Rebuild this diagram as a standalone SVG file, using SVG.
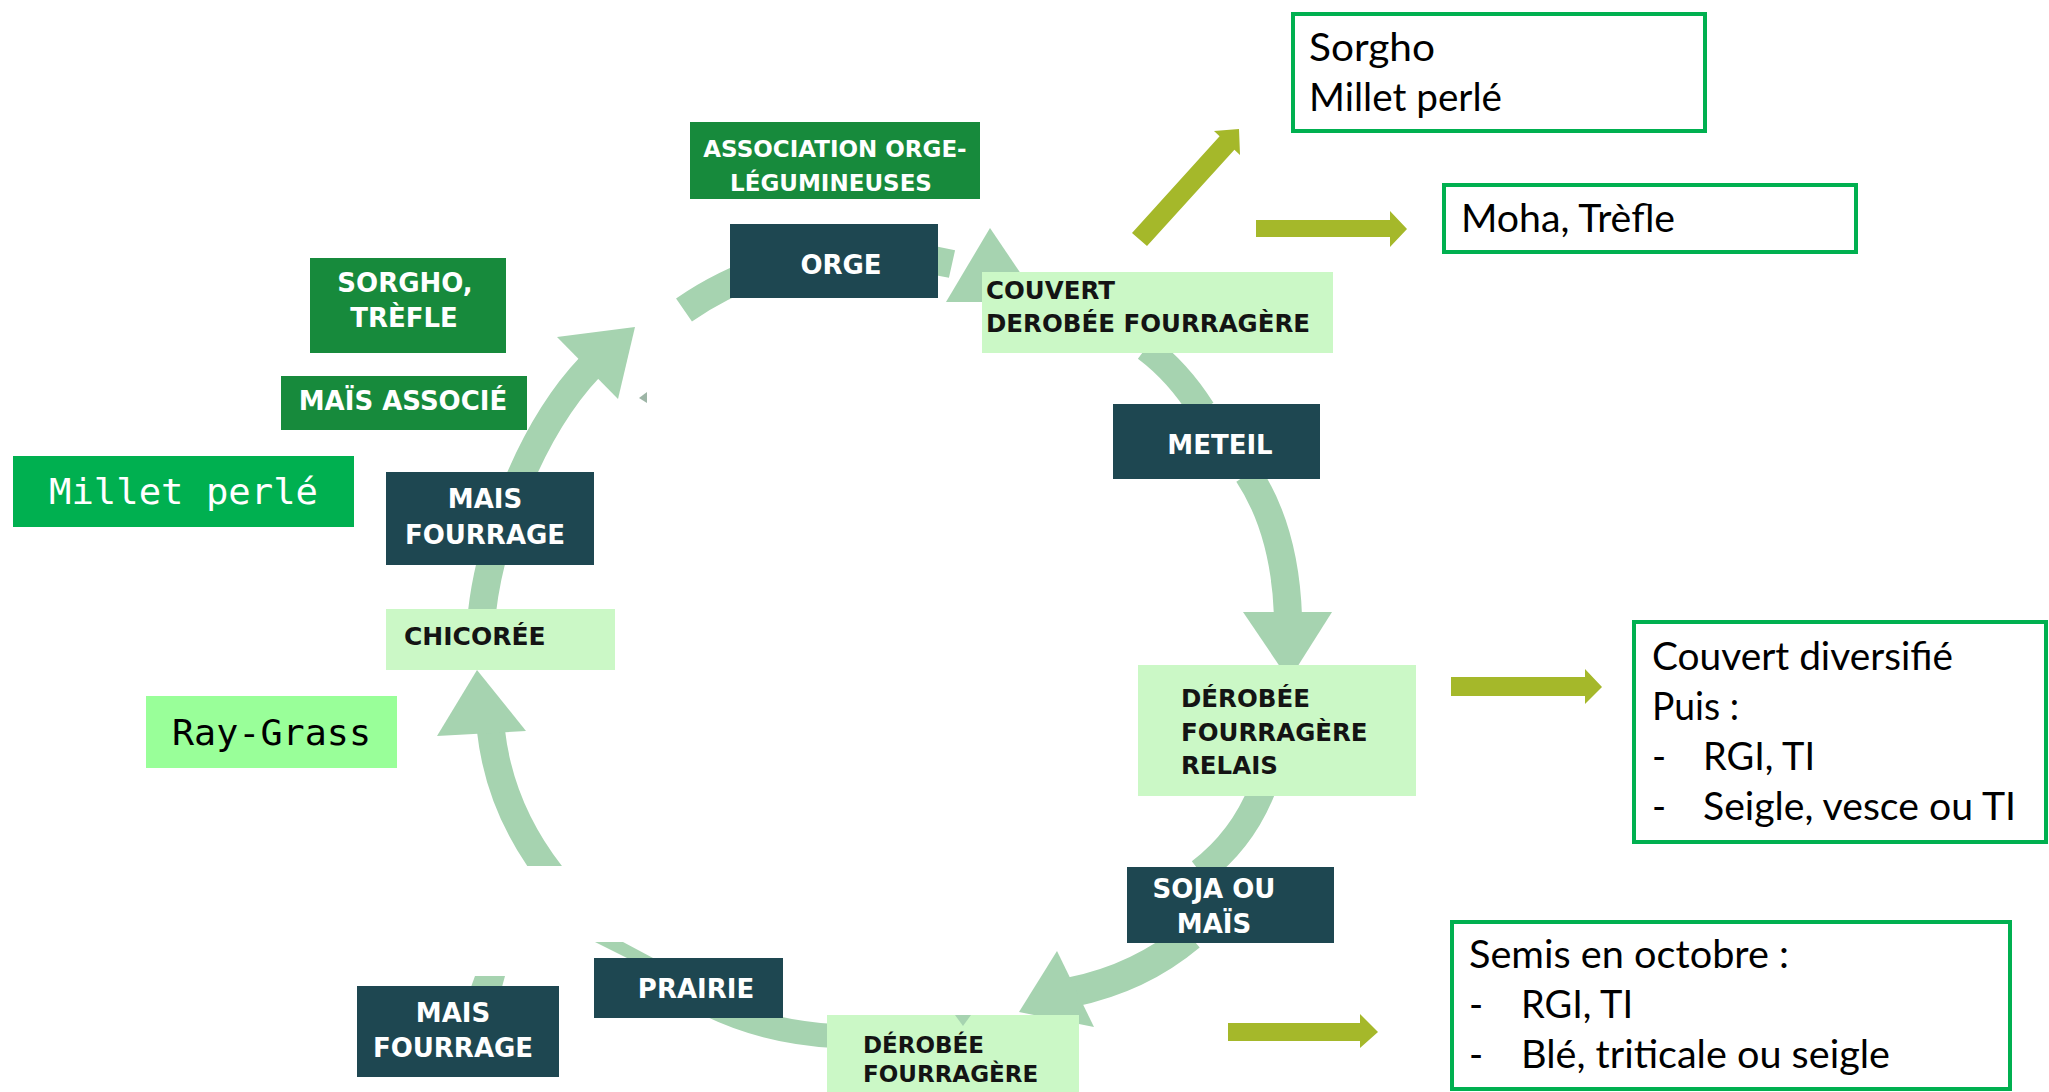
<svg xmlns="http://www.w3.org/2000/svg" width="2049" height="1092" viewBox="0 0 2049 1092">
<style>
.dark{fill:#1E4751}
.dg{fill:#178A3C}
.lg{fill:#CBF8C6}
.b{font-family:"DejaVu Sans",sans-serif;font-weight:bold}
.w{fill:#FFFFFF}
.k{fill:#141414}
.arc{fill:none;stroke:#A6D3B0;stroke-width:28}
.head{fill:#A6D3B0}
.olive{fill:#A5B82A}
.box{fill:#FFFFFF;stroke:#00B050;stroke-width:4}
.r{font-family:Lato,"Liberation Sans",sans-serif;font-size:38px;fill:#000}
.m{font-family:"DejaVu Sans Mono","Liberation Mono",monospace;font-size:35px}
</style>
<defs>
<clipPath id="cutLow"><rect x="380" y="690" width="320" height="176"/></clipPath>
</defs>
<rect width="2049" height="1092" fill="#FFFFFF"/>
<g id="connectors">
<path class="arc" d="M 482 612 C 490 540 530 430 590 367"/>
<polygon class="head" points="635,327 557,337 618,399"/>
<path class="arc" d="M 684 310 Q 800 230 952 264"/>
<polygon class="head" points="990,228 946,302 1040,302"/>
<path class="arc" style="stroke-width:27" d="M 1146 348 Q 1178 372 1202 410"/>
<path class="arc" d="M 1248 474 Q 1285 530 1288 616"/>
<polygon class="head" points="1243,612 1332,612 1289,680"/>
<path class="arc" style="stroke-width:27" d="M 1262 790 Q 1242 840 1200 872"/>
<path class="arc" style="stroke-width:30" d="M 1190 936 Q 1140 978 1072 992"/>
<polygon class="head" points="1019,1012 1057,951 1094,1027"/>
<path class="arc" style="stroke-width:24" d="M 835 1036 Q 760 1032 700 1000"/>
<polygon class="head" points="595,942 623,942 653,958 627,958"/>
<polygon class="head" points="475,976 505,976 502,987 471,987"/>
<path class="arc" clip-path="url(#cutLow)" d="M 491 731 Q 500 810 552 876"/>
<polygon class="head" points="477,670 437,736 526,731"/>
<polygon points="647,392 647,403 639,398" fill="#9DB5A6"/>
<polygon class="olive" points="1132,233 1219.6,136.3 1214,131 1239,129 1240,155 1234.4,149.7 1147,246"/>
<polygon class="olive" points="1256,220 1390,220 1390,211 1407,229 1390,247 1390,237 1256,237"/>
<polygon class="olive" points="1451,677 1585,677 1585,669 1602,687 1585,704 1585,696 1451,696"/>
<polygon class="olive" points="1228,1023 1360,1023 1360,1014 1378,1032 1360,1048 1360,1041 1228,1041"/>
</g>
<g id="n-association">
<rect class="dg" x="690" y="122" width="290" height="77"/>
<text class="b w" font-size="23" x="835" y="157" text-anchor="middle">ASSOCIATION ORGE-</text>
<text class="b w" font-size="23" x="831" y="191" text-anchor="middle">LÉGUMINEUSES</text>
</g>
<g id="n-orge">
<rect class="dark" x="730" y="224" width="208" height="74"/>
<text class="b w" font-size="26" x="841" y="274" text-anchor="middle">ORGE</text>
</g>
<g id="n-couvert">
<rect class="lg" x="982" y="272" width="351" height="81"/>
<text class="b k" font-size="24.5" x="986" y="299">COUVERT</text>
<text class="b k" font-size="24.5" x="986" y="332">DEROBÉE FOURRAGÈRE</text>
</g>
<g id="n-meteil">
<rect class="dark" x="1113" y="404" width="207" height="75"/>
<text class="b w" font-size="26" x="1220" y="454" text-anchor="middle">METEIL</text>
</g>
<g id="n-relais">
<rect class="lg" x="1138" y="665" width="278" height="131"/>
<text class="b k" font-size="24.5" x="1181" y="707">DÉROBÉE</text>
<text class="b k" font-size="24.5" x="1181" y="741">FOURRAGÈRE</text>
<text class="b k" font-size="24.5" x="1181" y="774">RELAIS</text>
</g>
<g id="n-soja">
<rect class="dark" x="1127" y="867" width="207" height="76"/>
<text class="b w" font-size="26" x="1214" y="898" text-anchor="middle">SOJA OU</text>
<text class="b w" font-size="26" x="1214" y="933" text-anchor="middle">MAÏS</text>
</g>
<g id="n-derobee-bas">
<rect class="lg" x="827" y="1015" width="252" height="77"/>
<polygon class="head" points="955,1015 971,1015 963,1026"/>
<text class="b k" font-size="23" x="863" y="1053">DÉROBÉE</text>
<text class="b k" font-size="23" x="863" y="1082">FOURRAGÈRE</text>
</g>
<g id="n-prairie">
<rect class="dark" x="594" y="958" width="189" height="60"/>
<text class="b w" font-size="26" x="696" y="998" text-anchor="middle">PRAIRIE</text>
</g>
<g id="n-mais-bas">
<rect class="dark" x="357" y="986" width="202" height="91"/>
<text class="b w" font-size="26" x="453" y="1022" text-anchor="middle">MAIS</text>
<text class="b w" font-size="26" x="453" y="1057" text-anchor="middle">FOURRAGE</text>
</g>
<g id="n-chicoree">
<rect class="lg" x="386" y="609" width="229" height="61"/>
<text class="b k" font-size="25" x="404" y="645">CHICORÉE</text>
</g>
<g id="n-mais-haut">
<rect class="dark" x="386" y="472" width="208" height="93"/>
<text class="b w" font-size="26" x="485" y="508" text-anchor="middle">MAIS</text>
<text class="b w" font-size="26" x="485" y="544" text-anchor="middle">FOURRAGE</text>
</g>
<g id="n-mais-associe">
<rect class="dg" x="281" y="376" width="246" height="54"/>
<text class="b w" font-size="26" x="403" y="410" text-anchor="middle">MAÏS ASSOCIÉ</text>
</g>
<g id="n-sorgho-trefle">
<rect class="dg" x="310" y="258" width="196" height="95"/>
<text class="b w" font-size="26" x="405" y="292" text-anchor="middle">SORGHO,</text>
<text class="b w" font-size="26" x="404" y="327" text-anchor="middle">TRÈFLE</text>
</g>
<g id="n-millet">
<rect x="13" y="456" width="341" height="71" fill="#00B050"/>
<text class="m" fill="#FFFFFF" x="49" y="504" textLength="269" lengthAdjust="spacingAndGlyphs">Millet perlé</text>
</g>
<g id="n-raygrass">
<rect x="146" y="696" width="251" height="72" fill="#99FF99"/>
<text class="m" fill="#000000" x="172" y="745" textLength="199" lengthAdjust="spacingAndGlyphs">Ray-Grass</text>
</g>
<g id="n-sorgho-millet">
<rect class="box" x="1293" y="14" width="412" height="117"/>
<text class="r" x="1309" y="61" textLength="126" lengthAdjust="spacingAndGlyphs">Sorgho</text>
<text class="r" x="1309" y="111" textLength="193" lengthAdjust="spacingAndGlyphs">Millet perlé</text>
</g>
<g id="n-moha">
<rect class="box" x="1444" y="185" width="412" height="67"/>
<text class="r" x="1461" y="232" textLength="214" lengthAdjust="spacingAndGlyphs">Moha, Trèfle</text>
</g>
<g id="n-couvert-div">
<rect class="box" x="1634" y="622" width="412" height="220"/>
<text class="r" x="1652" y="670" textLength="301" lengthAdjust="spacingAndGlyphs">Couvert diversifié</text>
<text class="r" x="1652" y="720" textLength="87" lengthAdjust="spacingAndGlyphs">Puis :</text>
<text class="r" x="1652" y="770">-</text>
<text class="r" x="1703" y="770" textLength="112" lengthAdjust="spacingAndGlyphs">RGI, TI</text>
<text class="r" x="1652" y="820">-</text>
<text class="r" x="1703" y="820" textLength="313" lengthAdjust="spacingAndGlyphs">Seigle, vesce ou TI</text>
</g>
<g id="n-semis">
<rect class="box" x="1452" y="922" width="558" height="167"/>
<text class="r" x="1469" y="968" textLength="320" lengthAdjust="spacingAndGlyphs">Semis en octobre :</text>
<text class="r" x="1469" y="1018">-</text>
<text class="r" x="1521" y="1018" textLength="112" lengthAdjust="spacingAndGlyphs">RGI, TI</text>
<text class="r" x="1469" y="1068">-</text>
<text class="r" x="1521" y="1068" textLength="369" lengthAdjust="spacingAndGlyphs">Blé, triticale ou seigle</text>
</g>
</svg>
